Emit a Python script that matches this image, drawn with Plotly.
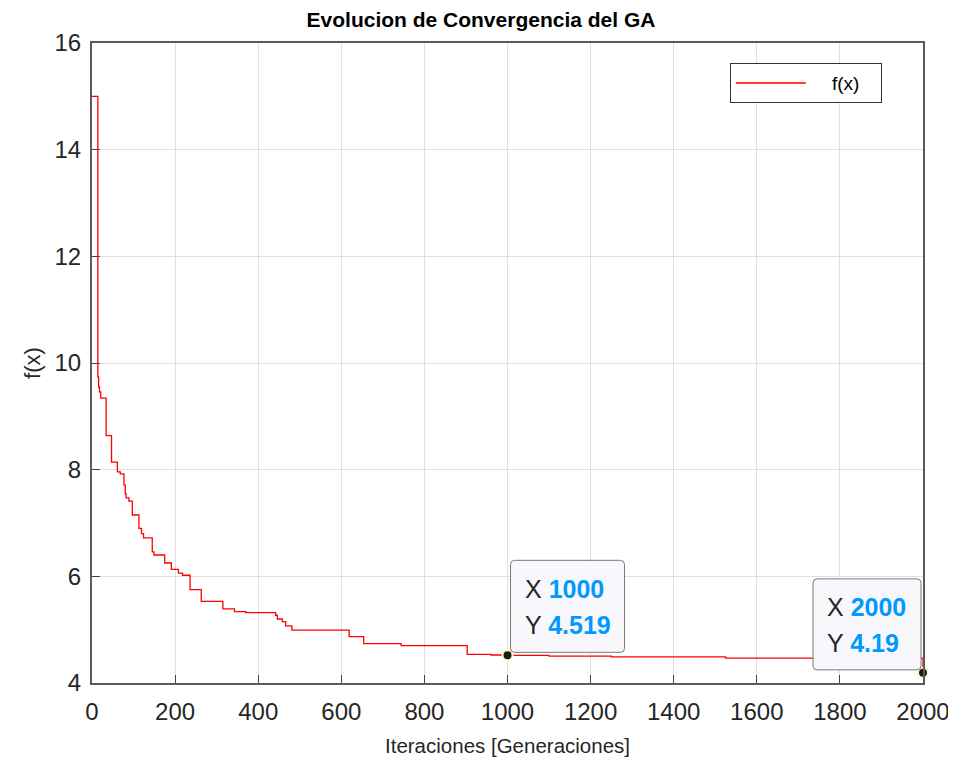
import plotly.graph_objects as go

# ---------------- data ----------------
# generation at which the best fitness changes, and the new best value (stairs)
gen_steps = [0, 14, 16, 18, 21, 34, 47, 61, 68, 77, 80, 82, 89, 97, 113, 119, 124,
             145, 149, 175, 191, 208, 218, 236, 263, 315, 343, 370, 442, 446, 458,
             466, 481, 619, 654, 744, 903, 960, 1000, 1100, 1250, 1525, 1999, 2000]
fx_steps = [15.0, 9.74, 9.55, 9.46, 9.34, 8.64, 8.14, 7.96, 7.92, 7.71, 7.55, 7.47,
            7.41, 7.15, 6.90, 6.80, 6.72, 6.46, 6.40, 6.25, 6.13, 6.06, 6.02, 5.75,
            5.53, 5.39, 5.34, 5.32, 5.27, 5.20, 5.15, 5.07, 4.99, 4.87, 4.74, 4.70,
            4.535, 4.525, 4.519, 4.505, 4.49, 4.465, 4.465, 4.19]

tip_x = [1000, 2000]
tip_y = [4.519, 4.19]
tip_x_labels = ["1000", "2000"]
tip_y_labels = ["4.519", "4.19"]

x_ticks = [0, 200, 400, 600, 800, 1000, 1200, 1400, 1600, 1800, 2000]
y_ticks = [4, 6, 8, 10, 12, 14, 16]

FONT = "Liberation Sans, Arial, Helvetica, sans-serif"
TXT = "#262626"
BLUE = "#0099ff"
NB = "\u00a0"

fig = go.Figure()
fig.add_trace(go.Scatter(
    x=gen_steps, y=fx_steps, mode="lines", name=NB * 4 + "f(x)" + NB * 3,
    line=dict(color="#ff0000", width=1.3, shape="hv"),
))
fig.add_trace(go.Scatter(
    x=tip_x, y=tip_y, mode="markers", showlegend=False, cliponaxis=False,
    marker=dict(size=10, color="#1a1a1a", line=dict(color="#fffac8", width=2)),
))

# datatip boxes (rounded rectangles, pixel offsets from the data point)
def rrect(L, R, B, T, r=4):
    return (f"M{L+r},{B} L{R-r},{B} Q{R},{B} {R},{B+r} L{R},{T-r} Q{R},{T} {R-r},{T} "
            f"L{L+r},{T} Q{L},{T} {L},{T-r} L{L},{B+r} Q{L},{B} {L+r},{B} Z")

box_geom = [(3, 117, 3, 95), (-110, -2, 3, 94)]
text_shift = [15, -98]
shapes = []
annotations = []
for i in range(2):
    L, R, B, T = box_geom[i]
    shapes.append(dict(
        type="path", xref="x", yref="y", xsizemode="pixel", ysizemode="pixel",
        xanchor=tip_x[i], yanchor=tip_y[i], path=rrect(L, R, B, T),
        fillcolor="#f8f8fc", line=dict(color="#7a7a7a", width=1), layer="above",
    ))
    for lab, val, ys in (("X", tip_x_labels[i], 66), ("Y", tip_y_labels[i], 30)):
        annotations.append(dict(
            x=tip_x[i], y=tip_y[i], xref="x", yref="y", showarrow=False,
            xanchor="left", yanchor="middle", xshift=text_shift[i], yshift=ys,
            text=f"{lab} <span style='color:{BLUE}'><b>{val}</b></span>",
            font=dict(family=FONT, size=25, color=TXT),
        ))

# page body has an 8px offset, margins compensate so the axes land where intended
fig.update_layout(
    width=956, height=760,
    margin=dict(l=84, r=41, t=35, b=85),
    paper_bgcolor="white", plot_bgcolor="white",
    font=dict(family=FONT, color=TXT),
    title=dict(text="Evolucion de Convergencia del GA", x=473 / 956, xref="container",
               xanchor="center", y=1 - 12 / 760, yanchor="middle",
               font=dict(family=FONT, size=21, color="black", weight="bold")),
    showlegend=True,
    legend=dict(x=0.7675, y=0.9685, xanchor="left", yanchor="top",
                bgcolor="white", bordercolor="#333333", borderwidth=1,
                font=dict(family=FONT, size=19, color="black"), itemwidth=70,
                tracegroupgap=0),
    shapes=shapes, annotations=annotations,
)
fig.update_xaxes(
    range=[0, 2000], tickvals=x_ticks, ticktext=[str(v) for v in x_ticks],
    showgrid=True, gridcolor="#e0e0e0", gridwidth=1, zeroline=False,
    showline=True, linecolor="#5a5a5a", linewidth=2, mirror=True, layer="above traces",
    ticks="inside", ticklen=8, tickcolor="#444444", tickwidth=1.2,
    ticklabelstandoff=6,
    tickfont=dict(family=FONT, size=24, color=TXT),
    title=dict(text="Iteraciones [Generaciones]", standoff=15,
               font=dict(family=FONT, size=20.5, color=TXT)),
)
fig.update_yaxes(
    range=[4, 16], tickvals=y_ticks, ticktext=[str(v) for v in y_ticks],
    showgrid=True, gridcolor="#e0e0e0", gridwidth=1, zeroline=False,
    showline=True, linecolor="#5a5a5a", linewidth=2, mirror=True, layer="above traces",
    ticks="inside", ticklen=8, tickcolor="#444444", tickwidth=1.2,
    ticklabelstandoff=4,
    tickfont=dict(family=FONT, size=24, color=TXT),
    title=dict(text="f(x)", standoff=8, font=dict(family=FONT, size=22, color=TXT)),
)

fig.write_html("out.html")
